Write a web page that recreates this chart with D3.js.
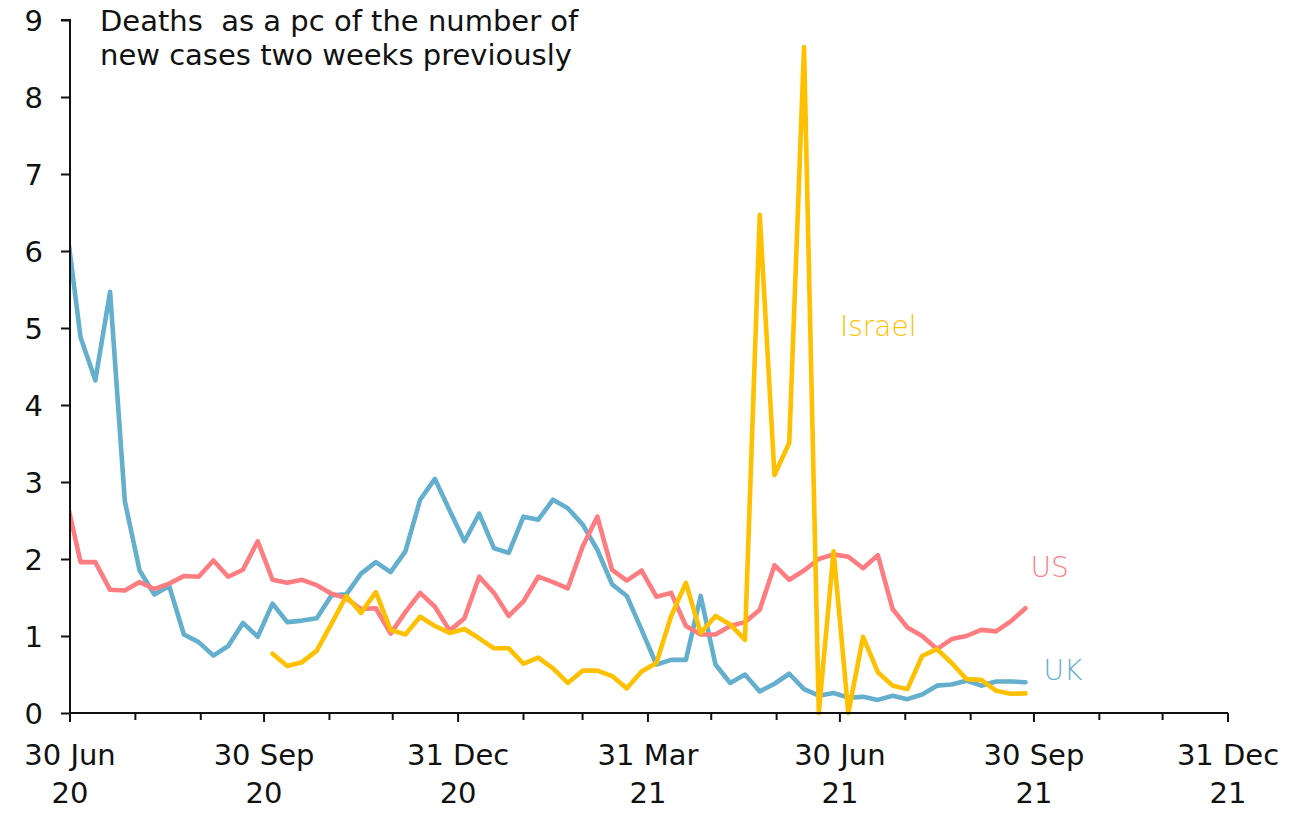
<!DOCTYPE html>
<html>
<head>
<meta charset="utf-8">
<script src="https://cdn.jsdelivr.net/npm/d3@7"></script>
<style>
  html, body { margin: 0; padding: 0; background: #fff; }
  svg { display: block; }
  text { font-family: "DejaVu Sans", sans-serif; fill: #111; white-space: pre; }
</style>
</head>
<body>
<svg id="chart" width="1316" height="814"></svg>
<script>
// Weekly observation dates (week ending)
const weeks = [
  "2020-06-28","2020-07-05","2020-07-12","2020-07-19","2020-07-26","2020-08-02","2020-08-09","2020-08-16",
  "2020-08-23","2020-08-30","2020-09-06","2020-09-13","2020-09-20","2020-09-27","2020-10-04","2020-10-11",
  "2020-10-18","2020-10-25","2020-11-01","2020-11-08","2020-11-15","2020-11-22","2020-11-29","2020-12-06",
  "2020-12-13","2020-12-20","2020-12-27","2021-01-03","2021-01-10","2021-01-17","2021-01-24","2021-01-31",
  "2021-02-07","2021-02-14","2021-02-21","2021-02-28","2021-03-07","2021-03-14","2021-03-21","2021-03-28",
  "2021-04-04","2021-04-11","2021-04-18","2021-04-25","2021-05-02","2021-05-09","2021-05-16","2021-05-23",
  "2021-05-30","2021-06-06","2021-06-13","2021-06-20","2021-06-27","2021-07-04","2021-07-11","2021-07-18",
  "2021-07-25","2021-08-01","2021-08-08","2021-08-15","2021-08-22","2021-08-29","2021-09-05","2021-09-12",
  "2021-09-19","2021-09-26"
];

const ukValues = [
  6.40, 4.88, 4.32, 5.47, 2.75, 1.85, 1.54, 1.65, 1.02, 0.92, 0.745, 0.87, 1.17, 0.99, 1.42, 1.18,
  1.20, 1.23, 1.53, 1.54, 1.81, 1.96, 1.83, 2.10, 2.77, 3.04, 2.63, 2.23, 2.59, 2.14, 2.08, 2.55,
  2.51, 2.77, 2.66, 2.45, 2.12, 1.67, 1.52, 1.08, 0.63, 0.69, 0.69, 1.52, 0.63, 0.39, 0.50, 0.28,
  0.38, 0.51, 0.31, 0.225, 0.26, 0.20, 0.21, 0.17, 0.225, 0.18, 0.24, 0.355, 0.37, 0.42, 0.355, 0.41,
  0.41, 0.40
];

const usValues = [
  2.81, 1.96, 1.96, 1.60, 1.59, 1.70, 1.61, 1.68, 1.78, 1.77, 1.98, 1.77, 1.86, 2.23, 1.73, 1.69,
  1.73, 1.66, 1.55, 1.49, 1.35, 1.36, 1.03, 1.31, 1.56, 1.38, 1.07, 1.23, 1.77, 1.56, 1.26, 1.45,
  1.77, 1.70, 1.62, 2.16, 2.55, 1.86, 1.72, 1.85, 1.51, 1.56, 1.13, 1.02, 1.02, 1.13, 1.18, 1.34,
  1.92, 1.73, 1.85, 2.00, 2.06, 2.03, 1.88, 2.05, 1.35, 1.11, 1.00, 0.83, 0.96, 1.00, 1.08, 1.06,
  1.19, 1.36
];

const israelValues = [
  null, null, null, null, null, null, null, null, null, null, null, null, null, null, 0.77, 0.61,
  0.66, 0.81, 1.16, 1.52, 1.30, 1.57, 1.08, 1.02, 1.25, 1.13, 1.04, 1.09, 0.97, 0.84, 0.84, 0.64,
  0.72, 0.58, 0.39, 0.55, 0.55, 0.48, 0.32, 0.54, 0.65, 1.26, 1.69, 1.04, 1.26, 1.15, 0.95, 6.47,
  3.09, 3.51, 8.65, 0.00, 2.10, 0.00, 0.99, 0.53, 0.355, 0.31, 0.74, 0.83, 0.65, 0.44, 0.43, 0.29,
  0.25, 0.255
];

const yTicks = [0, 1, 2, 3, 4, 5, 6, 7, 8, 9];
const xLabelDates = ["2020-06-30","2020-09-30","2020-12-31","2021-03-31","2021-06-30","2021-09-30","2021-12-31"];
const xLabelLines = [["30 Jun","20"],["30 Sep","20"],["31 Dec","20"],["31 Mar","21"],["30 Jun","21"],["30 Sep","21"],["31 Dec","21"]];
const titleLines = ["Deaths  as a pc of the number of", "new cases two weeks previously"];

const seriesInfo = [
  { name: "UK", values: ukValues, color: "#63AFCD" },
  { name: "US", values: usValues, color: "#FF7C80" },
  { name: "Israel", values: israelValues, color: "#FFC000" }
];
const labelInfo = [
  { name: "Israel", color: "#FFC000", date: "2021-06-30", value: 4.9, dx: 0 },
  { name: "US", color: "#FF7C80", date: "2021-09-26", value: 1.77, dx: 5 },
  { name: "UK", color: "#63AFCD", date: "2021-09-26", value: 0.43, dx: 18 }
];

const parse = d3.utcParse("%Y-%m-%d");
const svg = d3.select("#chart");

const x = d3.scaleUtc()
  .domain([parse("2020-06-30"), parse("2021-12-31")])
  .range([70, 1228]);
const y = d3.scaleLinear().domain([0, 9]).range([713, 20]);

// clip to plot area
svg.append("defs").append("clipPath").attr("id", "plotclip")
  .append("rect").attr("x", 70).attr("y", 0).attr("width", 1200).attr("height", 720);

const dates = weeks.map(parse);

const line = d3.line()
  .defined(d => d.v !== null)
  .x(d => x(d.t))
  .y(d => y(d.v));

const lines = svg.append("g").attr("clip-path", "url(#plotclip)");
seriesInfo.forEach(s => {
  lines.append("path")
    .datum(dates.map((t, i) => ({ t, v: s.values[i] })))
    .attr("fill", "none")
    .attr("stroke", s.color)
    .attr("stroke-width", 4.6)
    .attr("stroke-linejoin", "round")
    .attr("stroke-linecap", "round")
    .attr("d", line);
});

// Y axis
const yAxis = d3.axisLeft(y).tickValues(yTicks).tickSize(9).tickPadding(18).tickFormat(d3.format("d"));
const gy = svg.append("g").attr("transform", "translate(70,0)").call(yAxis);
gy.select(".domain").attr("stroke", "#111").attr("stroke-width", 2).attr("d", "M-9,20H0V713");
gy.selectAll(".tick line").attr("stroke", "#111").attr("stroke-width", 2);
gy.selectAll(".tick text").style("font-size", "29px").style("font-family", "DejaVu Sans").attr("fill", "#111").attr("dy", "0.36em");

// X axis: month-end ticks
const monthEnds = d3.utcMonth.range(parse("2020-07-01"), parse("2022-01-02")).map(d => d3.utcDay.offset(d, -1));
const majorSet = new Set(xLabelDates);
const fmt = d3.utcFormat("%Y-%m-%d");
const gx = svg.append("g").attr("transform", "translate(0,713)");
gx.append("path").attr("d", `M70,0H1228`).attr("stroke", "#111").attr("stroke-width", 2).attr("fill", "none");
gx.selectAll("line.tk").data(monthEnds).join("line")
  .attr("class", "tk")
  .attr("x1", d => x(d)).attr("x2", d => x(d))
  .attr("y1", 0).attr("y2", d => majorSet.has(fmt(d)) ? 9 : 7)
  .attr("stroke", "#111").attr("stroke-width", 2);

const labs = gx.selectAll("text.xl").data(xLabelDates).join("text")
  .attr("class", "xl")
  .attr("text-anchor", "middle")
  .style("font-size", "29px")
  .attr("transform", d => `translate(${x(parse(d))},0)`);
labs.each(function(d, i) {
  const t = d3.select(this);
  t.append("tspan").attr("x", 0).attr("y", 52).text(xLabelLines[i][0]);
  t.append("tspan").attr("x", 0).attr("y", 90).text(xLabelLines[i][1]);
});

// Title
const title = svg.append("text").attr("x", 100).style("font-size", "29px");
titleLines.forEach((l, i) => title.append("tspan").attr("x", 100).attr("y", 31 + i * 34).text(l));

// Series labels
labelInfo.forEach(l => {
  svg.append("text")
    .attr("x", x(parse(l.date)) + l.dx)
    .attr("y", y(l.value))
    .style("font-size", "28px")
    .style("font-weight", "300")
    .attr("fill", l.color)
    .style("fill", l.color)
    .text(l.name);
});
</script>
</body>
</html>
